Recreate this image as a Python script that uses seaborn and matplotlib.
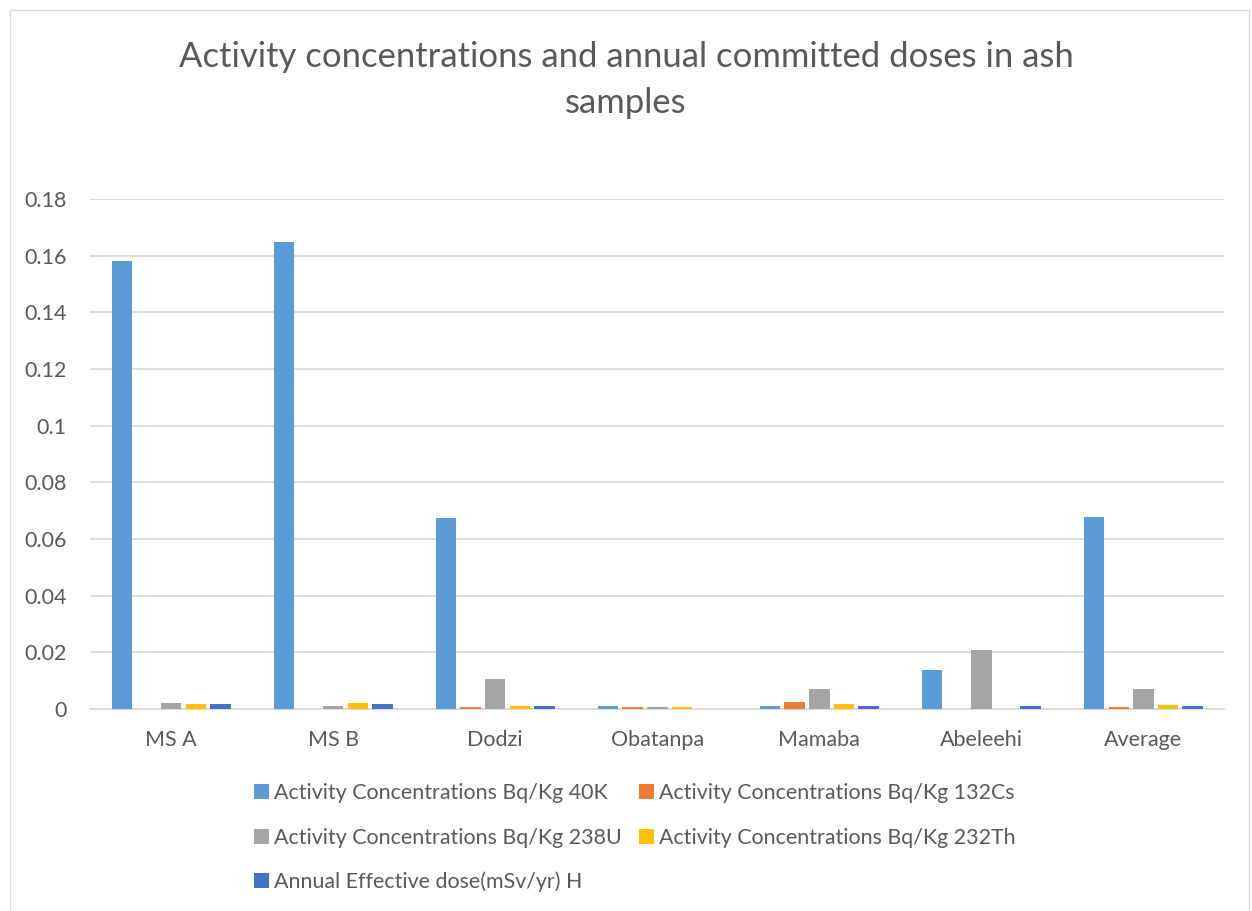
import seaborn as sns
import numpy as np
import pandas as pd
import matplotlib.pyplot as plt
from matplotlib.patches import Rectangle

# data
samples = ["MS A", "MS B", "Dodzi", "Obatanpa", "Mamaba", "Abeleehi", "Average"]
series = ["Activity Concentrations Bq/Kg 40K",
          "Activity Concentrations Bq/Kg 132Cs",
          "Activity Concentrations Bq/Kg 238U",
          "Activity Concentrations Bq/Kg 232Th",
          "Annual Effective dose(mSv/yr) H"]
k40 = [0.158, 0.1648, 0.0675, 0.0011, 0.0009, 0.0136, 0.0678]
cs132 = [0.0, 0.0, 0.0008, 0.0008, 0.0025, 0.0, 0.0006]
u238 = [0.0023, 0.0009, 0.0107, 0.0008, 0.0072, 0.0207, 0.0072]
th232 = [0.0019, 0.0021, 0.0011, 0.0008, 0.0018, 0.0, 0.0015]
dose_h = [0.0016, 0.0016, 0.0011, 0.0, 0.0009, 0.0011, 0.0012]
yticks = [0, 0.02, 0.04, 0.06, 0.08, 0.1, 0.12, 0.14, 0.16, 0.18]
ytick_labels = ["0", "0.02", "0.04", "0.06", "0.08", "0.1", "0.12", "0.14", "0.16", "0.18"]

colors = ["#5B9BD5", "#ED7D31", "#A5A5A5", "#FFC000", "#4472C4"]

rows = []
for name, vals in zip(series, [k40, cs132, u238, th232, dose_h]):
    for s, v in zip(samples, vals):
        rows.append({"sample": s, "series": name, "value": v})
df = pd.DataFrame(rows)

sns.set_style("white")
plt.rcParams['font.family'] = ['Lato', 'DejaVu Sans']

fig = plt.figure(figsize=(12.52, 9.11), dpi=100)
ax = fig.add_axes([0.072, 0.2217, 0.906, 0.56])

sns.barplot(data=df, x="sample", y="value", hue="series", order=samples,
            hue_order=series, palette=colors, width=0.76, gap=0.17,
            saturation=1, ax=ax, legend=True, zorder=3, linewidth=0)

ax.set_ylim(0, 0.18)
ax.set_yticks(yticks)
ax.set_yticklabels(ytick_labels)
ax.yaxis.grid(True, color="#D9D9D9", linewidth=1.3)
ax.set_axisbelow(True)
for side in ["top", "right", "left"]:
    ax.spines[side].set_visible(False)
ax.spines["bottom"].set_color("#D9D9D9")
ax.spines["bottom"].set_linewidth(1.3)
ax.spines["bottom"].set_zorder(1)
ax.tick_params(axis="both", length=0, labelsize=15.5, colors="#595959")
ax.tick_params(axis="y", pad=17)
ax.tick_params(axis="x", pad=15)
ax.set_xlabel("")
ax.set_ylabel("")

# legend row-major order in two columns
handles, labels = ax.get_legend_handles_labels()
idx = [0, 2, 4, 1, 3]
ax.legend([handles[i] for i in idx], [labels[i] for i in idx], ncol=2,
          loc="upper center", bbox_to_anchor=(0.48, -0.108), frameon=False,
          fontsize=15.4, labelcolor="#595959", handlelength=0.7, handleheight=0.7,
          handletextpad=0.25, columnspacing=0.8, labelspacing=1.13)

fig.suptitle("Activity concentrations and annual committed doses in ash\nsamples",
             y=0.955, fontsize=24.9, color="#595959", linespacing=1.52)

fig.patches.append(Rectangle((0.008, -0.01), 0.99, 0.999, transform=fig.transFigure,
                             fill=False, edgecolor="#D9D9D9", linewidth=1))

fig.savefig("out.png", dpi=100)
